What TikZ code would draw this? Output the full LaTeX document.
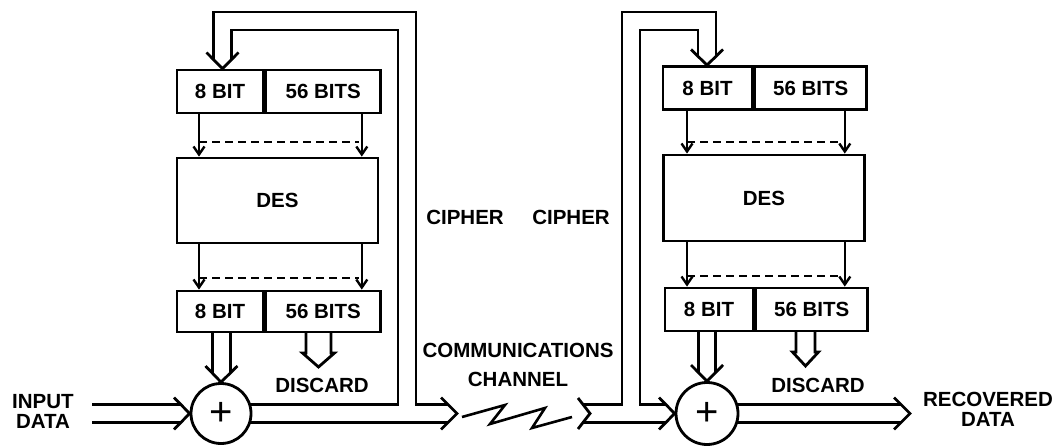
\documentclass[tikz,border=0pt]{standalone}
\usepackage{fontspec}
\setmainfont{Liberation Sans}
\usetikzlibrary{arrows.meta,calc}
\begin{document}
\begin{tikzpicture}[x=1pt,y=-1pt,
  lbl/.style={font=\fontsize{20.5}{20}\selectfont\bfseries},
  box/.style={draw, line width=2.8pt, inner sep=0pt, lbl},
  sarrow/.style={line width=2.4pt, -{Straight Barb[length=8pt,width=11pt]}},
  dline/.style={line width=2.4pt, dash pattern=on 8pt off 5pt},
  pipe/.style={line width=2.8pt},
  zig/.style={line width=2.6pt},
  adder/.style={draw, circle, line width=2.8pt, inner sep=0pt, font=\fontsize{40}{40}\selectfont}
]
\fill[white] (0,0) rectangle (1062,446);
\useasboundingbox (0,0) rectangle (1062,446);

% ---------------- left (transmitter) ----------------
\node[box, minimum width=86pt, minimum height=43pt] (r1a) at (220,91.5) {8 BIT};
\node[box, minimum width=115pt, minimum height=43pt, anchor=west] (r1b) at (r1a.east) {56 BITS};
\node[box, minimum width=201pt, minimum height=85pt] (d1) at (277.5,200.5) {DES};
\node[box, minimum width=86pt, minimum height=41pt] (r2a) at (220,311.5) {8 BIT};
\node[box, minimum width=115pt, minimum height=41pt, anchor=west] (r2b) at (r2a.east) {56 BITS};
\node[adder, minimum size=60pt] (c1) at (221,413.5) {+};

\draw[sarrow] ([xshift=-21pt]r1a.south) -- ([xshift=-21pt]r1a.south |- d1.north);
\draw[sarrow] ([xshift=38.5pt]r1b.south) -- ([xshift=38.5pt]r1b.south |- d1.north);
\draw[dline] (199,142) -- (359,142);
\draw[sarrow] ([xshift=-21pt]r2a.north |- d1.south) -- ([xshift=-21pt]r2a.north);
\draw[sarrow] ([xshift=38.5pt]r2b.north |- d1.south) -- ([xshift=38.5pt]r2b.north);
\draw[dline] (199,278) -- (359,278);

% input pipe
\draw[pipe] (92,404.5) -- (181,404.5);
\draw[pipe] (92,422.5) -- (181,422.5);
\draw[pipe] (174,397.5) -- (c1.west) -- (174,429.5);
% 8 bit -> adder
\draw[pipe] (212.5,332) -- (212.5,373);
\draw[pipe] (230.5,332) -- (230.5,373);
\draw[pipe] (205.5,366) -- (c1.north) -- (237.5,366);
% discard
\draw[pipe] (306,332) -- (306,353) -- (302.5,353) -- (318.5,367) -- (334.5,353) -- (331,353) -- (331,332);
% output + feedback
\draw[pipe] (249.5,404.5) -- (398,404.5) -- (398,30) -- (231.5,30) -- (231.5,59.5);
\draw[pipe] (448,404.5) -- (416,404.5) -- (416,12) -- (213.5,12) -- (213.5,59.5);
\draw[pipe] (249.5,422.5) -- (448,422.5);
\draw[pipe] (206.5,52.5) -- (r1a.north -| 222.5,0) -- (238.5,52.5);
\draw[pipe] (441,397.5) -- (457,413.5) -- (441,429.5);

% channel
\draw[zig] (462,417) -- (505,405) -- (490,424) -- (545,408) -- (532,428) -- (572,417);

% ---------------- right (receiver) ----------------
\node[box, minimum width=89pt, minimum height=43pt] (r3a) at (707.5,88) {8 BIT};
\node[box, minimum width=112pt, minimum height=43pt, anchor=west] (r3b) at (r3a.east) {56 BITS};
\node[box, minimum width=201pt, minimum height=86pt] (d2) at (764,198) {DES};
\node[box, minimum width=88pt, minimum height=43pt] (r4a) at (709,309.5) {8 BIT};
\node[box, minimum width=112pt, minimum height=43pt, anchor=west] (r4b) at (r4a.east) {56 BITS};
\node[adder, minimum size=62pt] (c2) at (707,413.5) {+};

\draw[sarrow] ([xshift=-20.5pt]r3a.south) -- ([xshift=-20.5pt]r3a.south |- d2.north);
\draw[sarrow] ([xshift=34pt]r3b.south) -- ([xshift=34pt]r3b.south |- d2.north);
\draw[dline] (687,142) -- (842,142);
\draw[sarrow] ([xshift=-22pt]r4a.north |- d2.south) -- ([xshift=-22pt]r4a.north);
\draw[sarrow] ([xshift=33pt]r4b.north |- d2.south) -- ([xshift=33pt]r4b.north);
\draw[dline] (687,276) -- (842,276);

% received pipe with notched tail
\draw[pipe] (578,398) -- (590,413.5) -- (578,429);
\draw[pipe] (583,404.5) -- (622,404.5) -- (622,12) -- (716,12) -- (716,56.5);
\draw[pipe] (666,404.5) -- (640,404.5) -- (640,30) -- (698,30) -- (698,56.5);
\draw[pipe] (583,422.5) -- (666,422.5);
\draw[pipe] (691,49.5) -- (r3a.north -| 707,0) -- (723,49.5);
\draw[pipe] (659,397.5) -- (c2.west) -- (659,429.5);
% 8 bit -> adder
\draw[pipe] (698.5,331) -- (698.5,372.5);
\draw[pipe] (715.5,331) -- (715.5,372.5);
\draw[pipe] (691,365) -- (c2.north) -- (723,365);
% discard
\draw[pipe] (796,331) -- (796,352) -- (792.5,352) -- (805.5,366) -- (818.5,352) -- (815,352) -- (815,331);
% output
\draw[pipe] (736.5,404.5) -- (901,404.5);
\draw[pipe] (736.5,422.5) -- (901,422.5);
\draw[pipe] (894,397.5) -- (910,413.5) -- (894,429.5);

% ---------------- labels ----------------
\node[lbl, align=center] (in) at (43,411) {INPUT\\DATA};
\node[lbl] (dis1) at (322,385) {DISCARD};
\node[lbl] (dis2) at (818,385) {DISCARD};
\node[lbl] (ciph1) at (465,217) {CIPHER};
\node[lbl] (ciph2) at (571,217) {CIPHER};
\node[lbl, align=center, font=\fontsize{20.5}{29}\selectfont\bfseries] (comm) at (518,365) {COMMUNICATIONS\\CHANNEL};
\node[lbl, align=center] (rec) at (988,409) {RECOVERED\\DATA};
\end{tikzpicture}
\end{document}
